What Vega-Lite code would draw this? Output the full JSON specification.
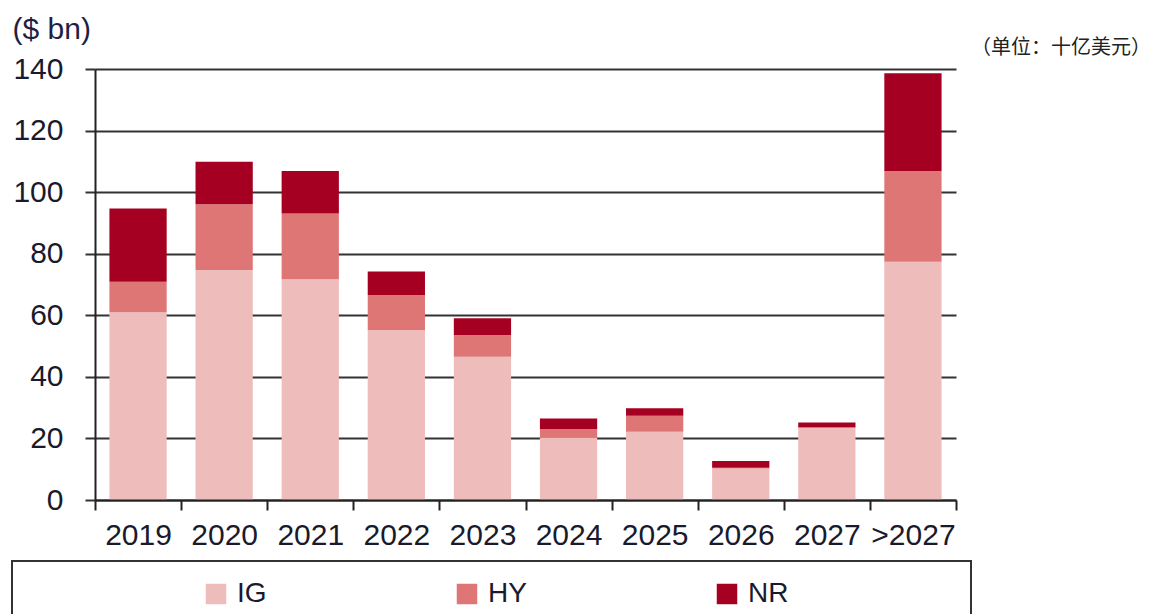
{
  "$schema": "https://vega.github.io/schema/vega-lite/v6.json",
  "width": 861,
  "height": 431,
  "autosize": {"type": "none"},
  "padding": {"left": 95, "top": 69, "right": 196, "bottom": 114},
  "background": "white",
  "title": {
    "text": "（单位：十亿美元）",
    "anchor": "end",
    "frame": "group",
    "orient": "top",
    "align": "right",
    "baseline": "middle",
    "dx": 195,
    "offset": -54,
    "font": "Noto Sans CJK SC",
    "fontSize": 20,
    "fontWeight": "normal",
    "color": "#222222"
  },
  "data": {
    "values": [
      {"year": "2019", "type": "IG", "value": 61.0},
      {"year": "2019", "type": "HY", "value": 9.9},
      {"year": "2019", "type": "NR", "value": 23.8},
      {"year": "2020", "type": "IG", "value": 74.7},
      {"year": "2020", "type": "HY", "value": 21.4},
      {"year": "2020", "type": "NR", "value": 13.8},
      {"year": "2021", "type": "IG", "value": 71.7},
      {"year": "2021", "type": "HY", "value": 21.4},
      {"year": "2021", "type": "NR", "value": 13.8},
      {"year": "2022", "type": "IG", "value": 55.2},
      {"year": "2022", "type": "HY", "value": 11.4},
      {"year": "2022", "type": "NR", "value": 7.6},
      {"year": "2023", "type": "IG", "value": 46.5},
      {"year": "2023", "type": "HY", "value": 7.1},
      {"year": "2023", "type": "NR", "value": 5.4},
      {"year": "2024", "type": "IG", "value": 20.2},
      {"year": "2024", "type": "HY", "value": 2.9},
      {"year": "2024", "type": "NR", "value": 3.4},
      {"year": "2025", "type": "IG", "value": 22.2},
      {"year": "2025", "type": "HY", "value": 5.2},
      {"year": "2025", "type": "NR", "value": 2.4},
      {"year": "2026", "type": "IG", "value": 10.2},
      {"year": "2026", "type": "HY", "value": 0.3},
      {"year": "2026", "type": "NR", "value": 2.2},
      {"year": "2027", "type": "IG", "value": 23.4},
      {"year": "2027", "type": "HY", "value": 0.2},
      {"year": "2027", "type": "NR", "value": 1.6},
      {"year": ">2027", "type": "IG", "value": 77.4},
      {"year": ">2027", "type": "HY", "value": 29.5},
      {"year": ">2027", "type": "NR", "value": 31.7}
    ]
  },
  "transform": [
    {"calculate": "indexof(['IG','HY','NR'], datum.type)", "as": "ord"}
  ],
  "mark": {"type": "bar", "width": {"band": 0.665}},
  "encoding": {
    "x": {
      "field": "year",
      "type": "nominal",
      "sort": null,
      "scale": {"paddingInner": 0, "paddingOuter": 0},
      "axis": {
        "title": null,
        "tickBand": "extent",
        "labelAngle": 0,
        "labelFont": "Liberation Sans",
        "labelFontSize": 30,
        "labelColor": "#1a1a2e",
        "labelPadding": 10,
        "tickSize": 10,
        "tickColor": "#222222",
        "tickWidth": 2,
        "domainColor": "#222222",
        "domainWidth": 2,
        "grid": false,
        "zindex": 1
      }
    },
    "y": {
      "field": "value",
      "type": "quantitative",
      "stack": "zero",
      "scale": {"domain": [0, 140], "nice": false},
      "axis": {
        "title": "($ bn)",
        "titleAngle": 0,
        "titleX": -83,
        "titleY": -31,
        "titleAlign": "left",
        "titleBaseline": "alphabetic",
        "titleFont": "Liberation Sans",
        "titleFontSize": 30,
        "titleFontWeight": "normal",
        "titleColor": "#1f1f45",
        "values": [0, 20, 40, 60, 80, 100, 120, 140],
        "grid": true,
        "gridColor": "#333333",
        "gridWidth": 2,
        "tickSize": 10,
        "tickColor": "#333333",
        "tickWidth": 2,
        "domainColor": "#222222",
        "domainWidth": 2,
        "labelFont": "Liberation Sans",
        "labelFontSize": 30,
        "labelColor": "#1a1a2e",
        "labelPadding": 22
      }
    },
    "color": {
      "field": "type",
      "type": "nominal",
      "scale": {"domain": ["IG", "HY", "NR"], "range": ["#EFBCBC", "#DE7676", "#A50021"]},
      "legend": {
        "orient": "none",
        "legendX": -83,
        "legendY": 492,
        "direction": "horizontal",
        "columns": 3,
        "title": "\u00a0\u200b",
        "titleOrient": "left",
        "titlePadding": 171,
        "titleFont": "Liberation Sans",
        "titleFontSize": 28,
        "padding": 19,
        "strokeColor": "#333333",
        "symbolType": "square",
        "symbolSize": 420,
        "symbolStrokeWidth": 0,
        "labelFont": "Liberation Sans",
        "labelFontSize": 28,
        "labelColor": "#1a1a2e",
        "labelOffset": 7,
        "labelLimit": 0,
        "columnPadding": 186,
        "labelExpr": "datum.label == 'NR' ? 'NR\u00a0\u00a0\u00a0\u00a0\u00a0\u00a0\u00a0\u00a0\u00a0\u00a0\u00a0\u00a0\u00a0\u00a0\u00a0\u00a0\u00a0\u00a0\u00a0\u00a0\u00a0\u200b' : datum.label",
        "encode": {"legend": {"update": {"strokeWidth": {"value": 2}}}}
      }
    },
    "order": {"field": "ord", "type": "quantitative", "sort": "ascending"}
  },
  "config": {"view": {"stroke": null}}
}
